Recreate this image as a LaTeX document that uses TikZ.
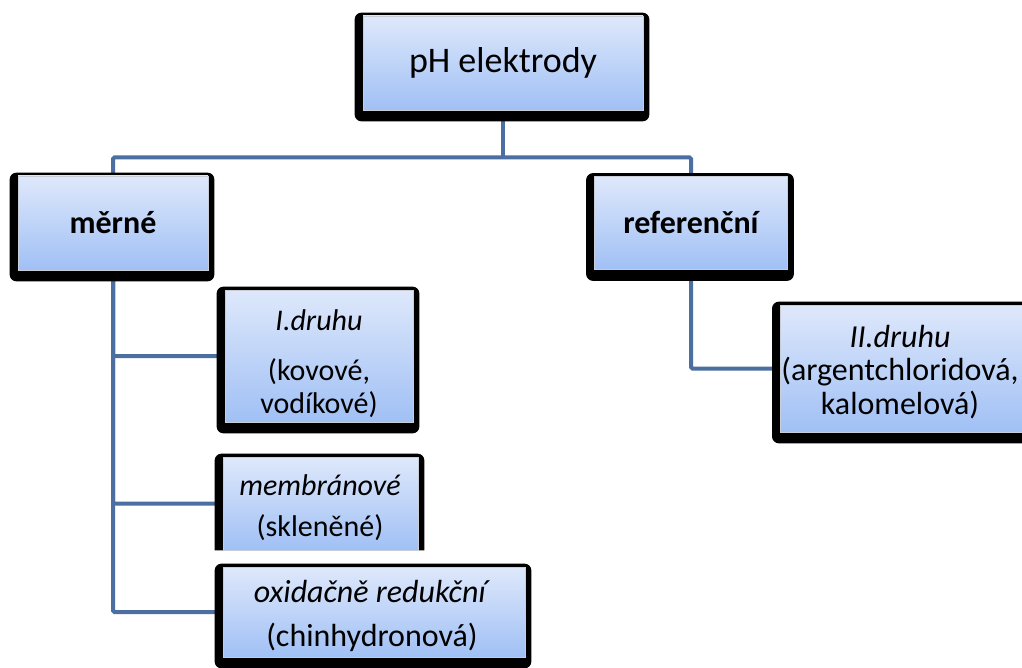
\documentclass[tikz,border=0pt]{standalone}
\usepackage{fontspec}
\setmainfont{Carlito}
\pgfdeclarelayer{conn}
\pgfdeclarelayer{shadowlayer}
\pgfsetlayers{conn,shadowlayer,main}
\definecolor{linkblue}{RGB}{74,111,160}
\definecolor{boxtop}{RGB}{222,232,251}
\definecolor{boxbot}{RGB}{160,192,245}
\definecolor{boxrim}{RGB}{200,205,215}
\tikzset{
  orgbox/.style={rectangle, inner sep=0pt, top color=boxtop, bottom color=boxbot,
    draw=boxrim, line width=0.8pt, align=center, text=black},
  link/.style={draw=linkblue, line width=4pt, rounded corners=1.5pt},
  backing/.style={fill=black, rounded corners=7pt},
  boxtext/.style={align=center, inner sep=0pt, text=black},
}
\begin{document}
\begin{tikzpicture}[x=1pt,y=-1pt]
\useasboundingbox (0,0) rectangle (1022,668);
\node[orgbox, minimum width=280pt, minimum height=94pt, font=\fontsize{36}{40}\selectfont] (root) at (503,63) {pH elektrody};
\node[orgbox, minimum width=190pt, minimum height=94pt, font=\fontsize{32}{36}\selectfont\bfseries] (merne) at (113,223) {měrné};
\node[orgbox, minimum width=193pt, minimum height=93pt, font=\fontsize{32}{36}\selectfont\bfseries] (ref) at (691,223) {referenční};
\node[orgbox, minimum width=188pt, minimum height=132pt] (d1) at (319,356) {};
\node[orgbox, minimum width=195pt, minimum height=93pt] (mem) at (320.5,503.5) {};
\node[orgbox, minimum width=302pt, minimum height=90pt] (ox) at (374,612) {};
\node[orgbox, minimum width=270pt, minimum height=127pt, anchor=west] (d2) at (780,368.5) {};
\node[boxtext, font=\fontsize{30}{33}\selectfont] (d1t) at (319,364) {\textit{I.druhu}\\[17pt](kovové,\\vodíkové)};
\node[boxtext, font=\fontsize{30}{33}\selectfont] (memt) at (320,508) {\textit{membránové}\\[8pt](skleněné)};
\node[boxtext, font=\fontsize{32}{35}\selectfont] (oxt) at (372,616) {\textit{oxidačně redukční}\\[9pt](chinhydronová)};
\node[boxtext, font=\fontsize{32}{33.5}\selectfont] (d2t) at (900,372) {\textit{II.druhu}\\(argentchloridová,\\kalomelová)};
\begin{pgfonlayer}{shadowlayer}
\foreach \n in {root,merne,ref,d1,ox,d2}
  \fill[backing] ([xshift=-8pt,yshift=3pt]\n.north west) rectangle ([xshift=6pt,yshift=-11pt]\n.south east);
\fill[black] ([xshift=-8pt]mem.south west) {[rounded corners=7pt] -- ([xshift=-8pt,yshift=3pt]mem.north west) -- ([xshift=6pt,yshift=3pt]mem.north east)} -- ([xshift=6pt]mem.south east) -- cycle;
\end{pgfonlayer}
\begin{pgfonlayer}{conn}
\coordinate (hub) at ([yshift=-47pt]root.south);
\draw[link] (root.south) -- (hub);
\draw[link] (merne.north) |- (hub) -| (ref.north);
\draw[link] (merne.south) |- (d1.west);
\draw[link] (merne.south) |- (mem.west);
\draw[link] (merne.south) |- (ox.west);
\draw[link] (ref.south) |- (d2.west);
\end{pgfonlayer}
\end{tikzpicture}
\end{document}
